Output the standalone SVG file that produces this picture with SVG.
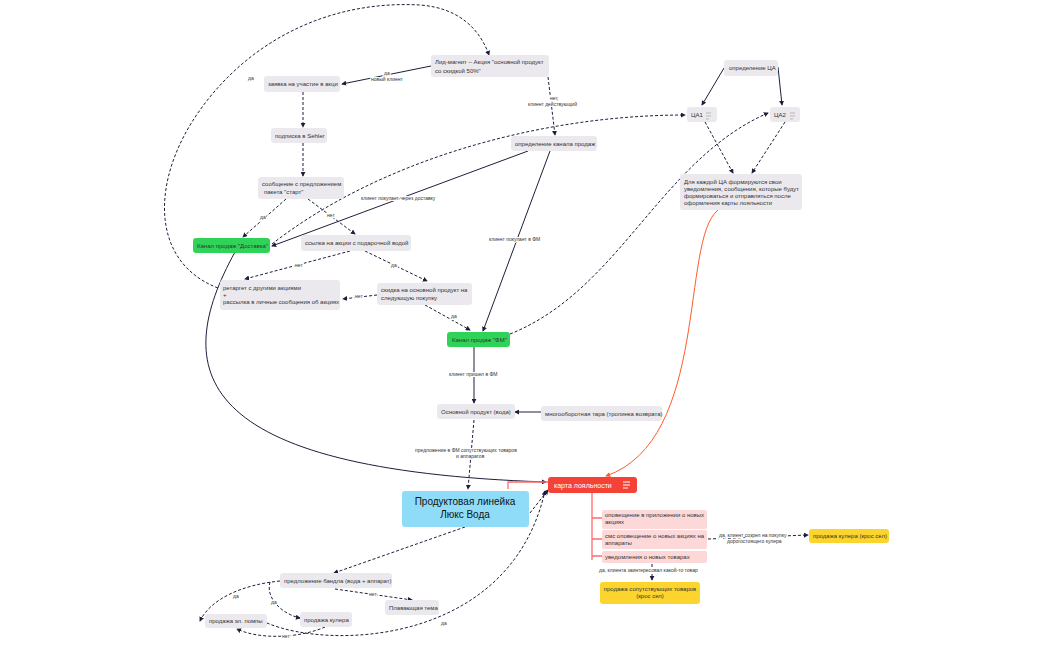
<svg xmlns="http://www.w3.org/2000/svg" width="1050" height="650" viewBox="0 0 1050 650">
<defs>
<marker id="a" viewBox="0 0 6 6" refX="5" refY="3" markerWidth="5" markerHeight="5" orient="auto"><path d="M0,0 L6,3 L0,6 z" fill="#1e1e3c"/></marker>
<marker id="r" viewBox="0 0 6 6" refX="5" refY="3" markerWidth="5" markerHeight="5" orient="auto"><path d="M0,0 L6,3 L0,6 z" fill="#ff5a2a"/></marker>
<style>
text{font-family:"Liberation Sans",Arial,sans-serif;font-size:6px;fill:#333}
.n{fill:#ebe9ed;rx:3}
.g{fill:#2fd358;rx:3}
.p{fill:#fdd8d8;rx:2}
.y{fill:#fbd52e;rx:3}
.l{font-size:5px;fill:#333;paint-order:stroke;stroke:#fff;stroke-width:2px}
.c path{fill:none;stroke:#1e1e3c;stroke-width:1;marker-end:url(#a)}
.c .d{stroke-dasharray:3 2}
.c .o{stroke:#ff5a2a;marker-end:url(#r)}
.c .s{stroke:#ff6b6b;marker-end:none;stroke-width:1.3}
</style>
</defs>
<rect width="1050" height="650" fill="#fff"/>
<g class="c" id="connectors">
<path class="d" d="M218,288 C150,262 150,180 200,110 C250,40 330,0 420,5 C460,8 480,30 489,55"/>
<path d="M431,66 L342,84"/>
<path class="d" d="M303,92 L303,127"/>
<path class="d" d="M303,143 L303,176"/>
<path class="d" d="M286,199 L243,237"/>
<path class="d" d="M308,199 L355,234"/>
<path class="d" d="M350,251 L245,279"/>
<path class="d" d="M365,251 L427,281"/>
<path class="d" d="M377,295 L343,299"/>
<path class="d" d="M425,305 L470,330"/>
<path class="d" d="M548,77 L555,135"/>
<path d="M528,151 L272,246"/>
<path d="M550,151 L483,331"/>
<path class="d" d="M272,244 C380,160 540,115 685,115"/>
<path class="d" d="M510,334 C620,290 660,160 768,113"/>
<path d="M724,68 L702,105"/>
<path d="M778,67 L782,105"/>
<path class="d" d="M705,122 L733,173"/>
<path class="d" d="M785,122 L752,173"/>
<path class="o" d="M718,210 C680,240 710,440 606,476"/>
<path d="M474,347 L474,403"/>
<path d="M541,412 L515,412"/>
<path class="d" d="M474,420 L468,489"/>
<path d="M235,252 C170,370 190,470 546,482"/>
<path class="s" d="M508,489 L508,482 L548,482"/>
<path class="d" d="M530,513 L548,490"/>
<path class="s" d="M592,493 L592,560 M592,518 L602,518 M592,539 L602,539 M592,556 L602,556"/>
<path class="d" d="M708,539 L808,535"/>
<path class="d" d="M652,564 L652,580"/>
<path class="d" d="M465,527 L334,573"/>
<path class="d" d="M280,581 C240,585 210,600 200,621"/>
<path class="d" d="M270,582 C265,600 285,615 300,618"/>
<path class="d" d="M335,589 L412,600"/>
<path class="d" d="M325,627 C300,638 260,640 237,629"/>
<path class="d" d="M267,623 C330,650 510,645 545,491"/>
</g>
<g id="n1"><rect class="n" x="431" y="55" width="118" height="22"/><text x="435" y="64">Лид-магнит – Акция "основной продукт</text><text x="435" y="73">со скидкой 50%"</text></g>
<g id="n2"><rect class="n" x="264" y="76" width="76" height="16"/><text x="268" y="86">заявка на участие в акци</text></g>
<g id="n3"><rect class="n" x="271" y="128" width="56" height="15"/><text x="275" y="138">подписка в Sehler</text></g>
<g id="n4"><rect class="n" x="258" y="177" width="86" height="22"/><text x="262" y="186">сообщение с предложением</text><text x="264" y="194">пакета "старт"</text></g>
<g id="n5"><rect class="g" x="193" y="238" width="77" height="15"/><text x="197" y="248" fill="#111">Канал продаж "Доставка"</text></g>
<g id="n6"><rect class="n" x="301" y="235" width="110" height="16"/><text x="305" y="245">ссылка на акции с подарочной водой</text></g>
<g id="n7"><rect class="n" x="220" y="280" width="120" height="30"/><text x="223" y="290">ретаргет с другими акциями</text><text x="223" y="297">+</text><text x="223" y="304">рассылка в личные сообщения об акциях</text></g>
<g id="n8"><rect class="n" x="377" y="283" width="95" height="22"/><text x="381" y="292">скидка на основной продукт на</text><text x="381" y="300">следующую покупку</text></g>
<g id="n9"><rect class="n" x="511" y="136" width="86" height="15"/><text x="515" y="146">определение канала продаж</text></g>
<g id="n10"><rect class="g" x="447" y="332" width="63" height="15"/><text x="452" y="342" fill="#111">Канал продаж "ФМ"</text></g>
<g id="n11"><rect class="n" x="437" y="404" width="78" height="15"/><text x="441" y="414">Основной продукт (вода)</text></g>
<g id="n12"><rect class="n" x="541" y="406" width="121" height="15"/><text x="545" y="416">многооборотная тара (тропинка возврата)</text></g>
<g id="n13"><rect class="n" x="724" y="60" width="54" height="16"/><text x="729" y="70">определение ЦА</text></g>
<g id="n14"><rect class="n" x="687" y="107" width="30" height="15"/><text x="691" y="117">ЦА1</text><path d="M706,113h5M706,116h5M706,119h3" stroke="#aaa" stroke-width="0.8"/></g>
<g id="n15"><rect class="n" x="770" y="107" width="30" height="15"/><text x="774" y="117">ЦА2</text><path d="M790,113h5M790,116h5M790,119h3" stroke="#aaa" stroke-width="0.8"/></g>
<g id="n16"><rect class="n" x="680" y="174" width="122" height="36"/><text x="684" y="184">Для каждой ЦА формируются свои</text><text x="684" y="191">уведомления, сообщения, которые будут</text><text x="684" y="198">формироваться и отправляться после</text><text x="684" y="205">оформления карты лояльности</text></g>
<g id="n17"><rect x="548" y="477" width="89" height="16" rx="3" fill="#f44336"/><text x="554" y="488" style="font-size:7px;fill:#fff">карта лояльности</text><path d="M623,482h7M623,485h7M623,488h5" stroke="#fff" stroke-width="1"/></g>
<g id="n18"><rect x="402" y="491" width="127" height="36" rx="3" fill="#8fdcf8"/><text x="465" y="505" text-anchor="middle" style="font-size:10px;fill:#111">Продуктовая линейка</text><text x="465" y="518" text-anchor="middle" style="font-size:10px;fill:#111">Люкс Вода</text></g>
<g id="n19"><rect class="p" x="602" y="510" width="105" height="19"/><text x="605" y="517" fill="#844">оповещение в приложении о новых</text><text x="605" y="524" fill="#844">акциях</text></g>
<g id="n20"><rect class="p" x="602" y="530" width="105" height="19"/><text x="605" y="538" fill="#844">смс оповещение о новых акциях на</text><text x="605" y="545" fill="#844">аппараты</text></g>
<g id="n21"><rect class="p" x="602" y="551" width="105" height="12"/><text x="605" y="559" fill="#844">уведомления о новых товарах</text></g>
<g id="n22"><rect class="y" x="809" y="529" width="80" height="14"/><text x="813" y="538">продажа кулера (крос сел)</text></g>
<g id="n23"><rect class="y" x="600" y="582" width="100" height="22"/><text x="650" y="591" text-anchor="middle">продажа сопутствующих товаров</text><text x="650" y="598" text-anchor="middle">(крос сел)</text></g>
<g id="n24"><rect class="n" x="280" y="573" width="112" height="15"/><text x="284" y="583">предложение бандла (вода + аппарат)</text></g>
<g id="n25"><rect class="n" x="385" y="600" width="54" height="15"/><text x="389" y="610">Плавающая тема</text></g>
<g id="n26"><rect class="n" x="300" y="612" width="52" height="15"/><text x="304" y="622">продажа кулера</text></g>
<g id="n27"><rect class="n" x="205" y="614" width="62" height="14"/><text x="209" y="623">продажа эл. помпы</text></g>
<g id="labels">
<text class="l" x="384" y="75">да</text><text class="l" x="371" y="81">новый клиент</text>
<text class="l" x="550" y="100">нет,</text><text class="l" x="528" y="106">клиент действующий</text>
<text class="l" x="248" y="80">да</text>
<text class="l" x="361" y="200">клиент покупает через доставку</text>
<text class="l" x="489" y="241">клиент покупает в ФМ</text>
<text class="l" x="260" y="219">да</text><text class="l" x="327" y="217">нет</text>
<text class="l" x="295" y="267">нет</text><text class="l" x="391" y="267">да</text>
<text class="l" x="355" y="298">нет</text><text class="l" x="451" y="318">да</text>
<text class="l" x="449" y="376">клиент пришел в ФМ</text>
<text class="l" x="415" y="452">предложение в ФМ сопутствующих товаров</text><text class="l" x="456" y="458">и аппаратов</text>
<text class="l" x="719" y="537">да, клиент созрел на покупку</text><text class="l" x="727" y="543">дорогостоящего кулера</text>
<text class="l" x="599" y="572">да, клиента заинтересовал какой-то товар</text>
<text class="l" x="233" y="598">да</text><text class="l" x="271" y="604">да</text><text class="l" x="369" y="596">нет</text>
<text class="l" x="282" y="638">нет</text><text class="l" x="441" y="625">да</text>
</g>
</svg>
